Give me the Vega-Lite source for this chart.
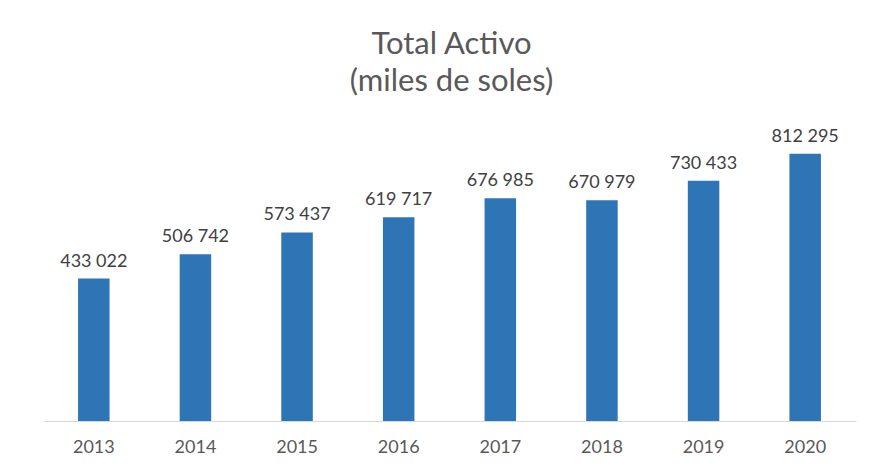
{
  "$schema": "https://vega.github.io/schema/vega-lite/v6.json",
  "width": 813,
  "height": 296,
  "autosize": {"type": "none"},
  "padding": {"left": 43, "top": 125, "right": 24, "bottom": 46},
  "background": "white",
  "config": {
    "locale": {"number": {"decimal": ",", "thousands": " ", "grouping": [3], "currency": ["", ""]}},
    "view": {"stroke": null},
    "font": "Lato"
  },
  "title": {
    "text": ["Total Activo", "(miles de soles)"],
    "fontSize": 31,
    "font": "Lato",
    "fontWeight": "normal",
    "color": "#595959",
    "anchor": "middle",
    "dx": 2,
    "offset": 27,
    "lineHeight": 37
  },
  "data": {
    "values": [
      {"year": "2013", "value": 433022},
      {"year": "2014", "value": 506742},
      {"year": "2015", "value": 573437},
      {"year": "2016", "value": 619717},
      {"year": "2017", "value": 676985},
      {"year": "2018", "value": 670979},
      {"year": "2019", "value": 730433},
      {"year": "2020", "value": 812295}
    ]
  },
  "encoding": {
    "x": {
      "field": "year",
      "type": "ordinal",
      "scale": {"paddingInner": 0.69, "paddingOuter": 0.345},
      "axis": {
        "title": null,
        "labelAngle": 0,
        "ticks": false,
        "domainColor": "#d9d9d9",
        "labelColor": "#595959",
        "labelFontSize": 18,
        "labelFont": "Lato",
        "labelPadding": 17
      }
    },
    "y": {
      "field": "value",
      "type": "quantitative",
      "scale": {"domain": [0, 900000]},
      "axis": null
    }
  },
  "layer": [
    {"mark": {"type": "bar", "color": "#2E75B6"}},
    {
      "mark": {"type": "text", "baseline": "bottom", "dy": -8, "fontSize": 18, "color": "#404040", "font": "Lato"},
      "encoding": {"text": {"field": "value", "type": "quantitative", "format": ",d"}}
    }
  ]
}
